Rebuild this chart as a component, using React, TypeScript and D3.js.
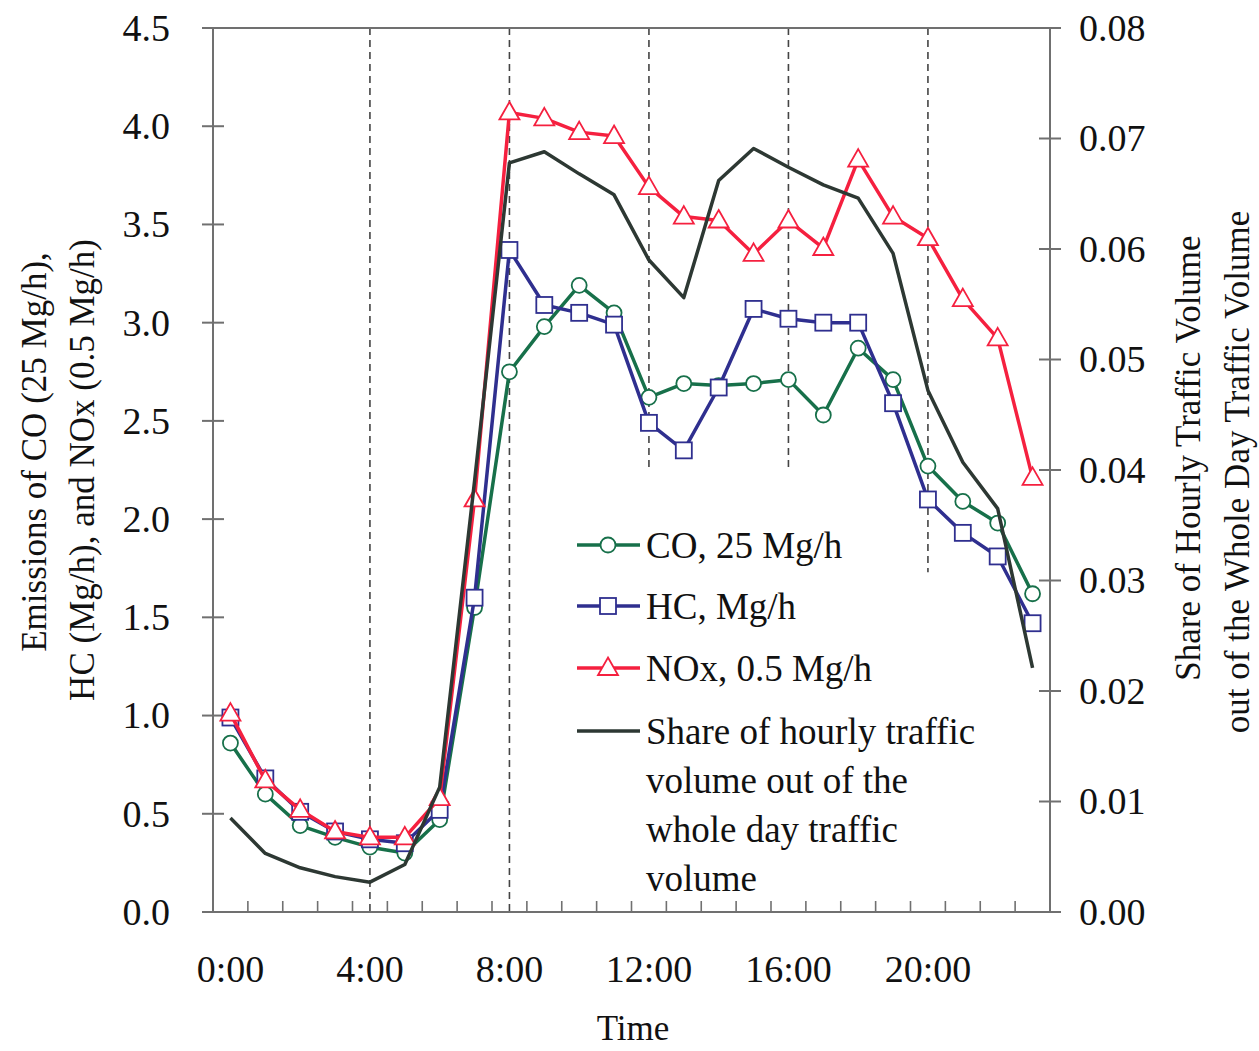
import * as d3 from "d3";

const hours = d3.range(24);
const hourLabels = ["0:00", "4:00", "8:00", "12:00", "16:00", "20:00"];
const labelHours = [0, 4, 8, 12, 16, 20];

const co = [0.86, 0.6, 0.44, 0.38, 0.33, 0.3, 0.47, 1.55, 2.75, 2.98, 3.19, 3.05, 2.62, 2.69, 2.68, 2.69, 2.71, 2.53, 2.87, 2.71, 2.27, 2.09, 1.98, 1.62];
const hc = [0.99, 0.68, 0.51, 0.41, 0.37, 0.35, 0.52, 1.6, 3.37, 3.09, 3.05, 2.99, 2.49, 2.35, 2.67, 3.07, 3.02, 3.0, 3.0, 2.59, 2.1, 1.93, 1.81, 1.47];
const nox = [1.01, 0.67, 0.52, 0.41, 0.38, 0.38, 0.58, 2.1, 4.07, 4.04, 3.97, 3.95, 3.69, 3.54, 3.52, 3.35, 3.52, 3.38, 3.83, 3.54, 3.43, 3.12, 2.92, 2.21];
const share = [0.0085, 0.0053, 0.004, 0.0032, 0.0027, 0.0043, 0.0113, 0.039, 0.0678, 0.0688, 0.0668, 0.0649, 0.059, 0.0556, 0.0662, 0.0691, 0.0674, 0.0658, 0.0646, 0.0596, 0.0472, 0.0407, 0.0365, 0.0221];

const leftTicks = [0, 0.5, 1, 1.5, 2, 2.5, 3, 3.5, 4, 4.5];
const rightTicks = [0, 0.01, 0.02, 0.03, 0.04, 0.05, 0.06, 0.07, 0.08];

// dashed markers: hour, lower end (left axis units)
const dashHours = [4, 8, 12, 16, 20];
const dashBottoms = [0, 0, 2.25, 2.25, 1.73];

const legendLabels = ["CO, 25 Mg/h", "HC, Mg/h", "NOx, 0.5 Mg/h"];
const shareLegend = ["Share of hourly traffic", "volume out of the", "whole day traffic", "volume"];

const GREEN = "#17704a";
const BLUE = "#2f2f8f";
const RED = "#f5203f";
const DARK = "#2d3833";
const AXIS = "#707070";
const FONT = "'Liberation Serif', 'Times New Roman', serif";

function Marker({ kind, x, y, color }: { kind: string; x: number; y: number; color: string }) {
  if (kind === "circle")
    return <circle cx={x} cy={y} r={7.5} fill="#fff" stroke={color} strokeWidth={1.8} />;
  if (kind === "square")
    return <rect x={x - 8} y={y - 8} width={16} height={16} fill="#fff" stroke={color} strokeWidth={1.8} />;
  const s = 10;
  return (
    <path
      d={`M${x},${y - s * 1.05}L${x + s},${y + s * 0.7}L${x - s},${y + s * 0.7}Z`}
      fill="#fff"
      stroke={color}
      strokeWidth={1.8}
    />
  );
}

export default function App() {
  const W = 1259,
    H = 1051;
  const m = { left: 213, right: 1050, top: 28, bottom: 912 };

  const x = d3.scaleLinear().domain([-0.5, 23.5]).range([m.left, m.right]);
  const yL = d3.scaleLinear().domain([0, 4.5]).range([m.bottom, m.top]);
  const yR = d3.scaleLinear().domain([0, 0.08]).range([m.bottom, m.top]);

  const lineL = d3
    .line<number>()
    .x((_, i) => x(hours[i]))
    .y((d) => yL(d));
  const lineR = d3
    .line<number>()
    .x((_, i) => x(hours[i]))
    .y((d) => yR(d));

  const series = [
    { data: co, color: GREEN, kind: "circle" },
    { data: hc, color: BLUE, kind: "square" },
    { data: nox, color: RED, kind: "triangle" },
  ];

  const legRows = [545, 606, 668];

  return (
    <svg
      width={W}
      height={H}
      style={{ position: "absolute", left: 0, top: 0, display: "block", background: "#fff" }}
      fontFamily={FONT}
    >
      {/* dashed hour markers */}
      {dashHours.map((h, i) => (
        <line
          key={h}
          x1={x(h)}
          x2={x(h)}
          y1={m.top}
          y2={yL(dashBottoms[i])}
          stroke="#444"
          strokeWidth={1.6}
          strokeDasharray="7,5"
        />
      ))}

      {/* frame + axes */}
      <line x1={m.left} x2={m.right} y1={m.top} y2={m.top} stroke={AXIS} strokeWidth={2} />
      <line x1={m.left} x2={m.left} y1={m.top} y2={m.bottom} stroke={AXIS} strokeWidth={2} />
      <line x1={m.right} x2={m.right} y1={m.top} y2={m.bottom} stroke={AXIS} strokeWidth={2} />
      <line x1={m.left - 10} x2={m.right + 10} y1={m.bottom} y2={m.bottom} stroke={AXIS} strokeWidth={2} />

      {/* x minor ticks at category boundaries */}
      {d3.range(1, 24).map((k) => (
        <line key={k} x1={x(k - 0.5)} x2={x(k - 0.5)} y1={m.bottom} y2={m.bottom - 11} stroke={AXIS} strokeWidth={1.6} />
      ))}

      {/* left ticks */}
      {leftTicks.map((t) => (
        <g key={t}>
          <line x1={m.left - 11} x2={m.left + 11} y1={yL(t)} y2={yL(t)} stroke={AXIS} strokeWidth={2} />
          <text x={170} y={yL(t)} dy="0.34em" textAnchor="end" fontSize={38} fill="#111">
            {t.toFixed(1)}
          </text>
        </g>
      ))}

      {/* right ticks */}
      {rightTicks.map((t) => (
        <g key={t}>
          <line x1={m.right - 11} x2={m.right + 11} y1={yR(t)} y2={yR(t)} stroke={AXIS} strokeWidth={2} />
          <text x={1079} y={yR(t)} dy="0.34em" textAnchor="start" fontSize={38} fill="#111">
            {t.toFixed(2)}
          </text>
        </g>
      ))}

      {/* x labels */}
      {labelHours.map((h, i) => (
        <text key={h} x={x(h)} y={982} textAnchor="middle" fontSize={38} fill="#111">
          {hourLabels[i]}
        </text>
      ))}
      <text x={633} y={1040} textAnchor="middle" fontSize={35} fill="#111">
        Time
      </text>

      {/* axis titles */}
      <text transform="translate(46,452) rotate(-90)" textAnchor="middle" fontSize={35} fill="#111">
        Emissions of CO (25 Mg/h),
      </text>
      <text transform="translate(94,470) rotate(-90)" textAnchor="middle" fontSize={35} fill="#111">
        HC (Mg/h), and NOx (0.5 Mg/h)
      </text>
      <text transform="translate(1200,458) rotate(-90)" textAnchor="middle" fontSize={35} fill="#111">
        Share of Hourly Traffic Volume
      </text>
      <text transform="translate(1249,472) rotate(-90)" textAnchor="middle" fontSize={35} fill="#111">
        out of the Whole Day Traffic Volume
      </text>

      {/* emission series */}
      {series.map((s) => (
        <g key={s.kind}>
          <path d={lineL(s.data) ?? ""} fill="none" stroke={s.color} strokeWidth={3.5} strokeLinejoin="round" />
          {s.data.map((v, i) => (
            <Marker key={i} kind={s.kind} x={x(hours[i])} y={yL(v)} color={s.color} />
          ))}
        </g>
      ))}

      {/* traffic share (secondary axis) */}
      <path d={lineR(share) ?? ""} fill="none" stroke={DARK} strokeWidth={3.5} strokeLinejoin="round" />

      {/* legend */}
      {series.map((s, i) => (
        <g key={s.kind}>
          <line x1={577} x2={640} y1={legRows[i]} y2={legRows[i]} stroke={s.color} strokeWidth={3.5} />
          <Marker kind={s.kind} x={608} y={legRows[i]} color={s.color} />
          <text x={646} y={legRows[i]} dy="0.34em" fontSize={37} fill="#111">
            {legendLabels[i]}
          </text>
        </g>
      ))}
      <line x1={577} x2={640} y1={731} y2={731} stroke={DARK} strokeWidth={3.5} />
      {shareLegend.map((t, i) => (
        <text key={i} x={646} y={731 + i * 49} dy="0.34em" fontSize={37} fill="#111">
          {t}
        </text>
      ))}
    </svg>
  );
}
